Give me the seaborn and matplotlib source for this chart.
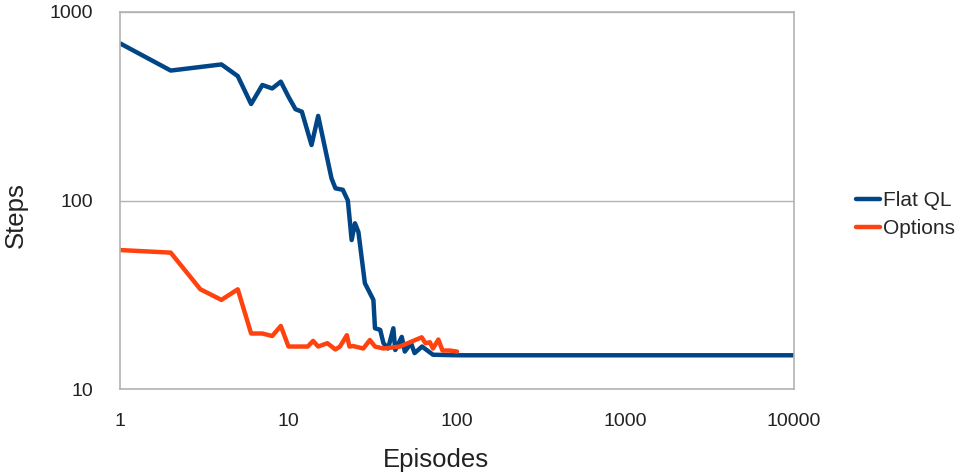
import matplotlib
matplotlib.use("Agg")
import matplotlib.pyplot as plt
import matplotlib.ticker as mticker
import pandas as pd
import seaborn as sns

flat_episodes = [1, 2, 4, 5, 6, 7, 8, 9, 10, 11, 12, 13.7, 15, 18, 19, 21, 22.5,
                 23.7, 24.8, 26, 28.4, 31.9, 32.6, 35, 36.6, 39, 41.9, 43, 47,
                 49, 53.4, 56, 62, 72, 100, 1000, 10000]
flat_steps = [682, 489, 527, 457, 325, 410, 393, 427, 355, 305, 296, 197, 281,
              131, 116, 114, 100, 61.7, 75.7, 68, 36.4, 29.7, 21, 20.6, 17.5,
              16.4, 21, 16.1, 18.9, 15.8, 17.5, 15.5, 16.8, 15.2, 15.1, 15.1, 15.1]

opt_episodes = [1, 2, 3, 4, 5, 6, 7, 8, 9, 10, 13, 14, 15, 17, 19, 20.2, 22.2,
                23, 24.2, 27.8, 30.4, 32.6, 36.6, 45.8, 61.7, 65, 69, 72, 77.5,
                82, 90.6, 100]
opt_steps = [54.6, 52.9, 33.8, 29.7, 33.8, 19.7, 19.7, 19.1, 21.6, 16.8, 16.8,
             18, 16.8, 17.5, 16.2, 16.8, 19.3, 16.8, 16.9, 16.4, 18.2, 16.8,
             16.4, 16.8, 18.8, 17.5, 17.7, 16.4, 18.3, 16.0, 16.0, 15.8]

series_names = ["Flat QL", "Options"]
colors = ["#004586", "#ff420e"]

df = pd.concat([
    pd.DataFrame({"Episodes": flat_episodes, "Steps": flat_steps, "series": series_names[0]}),
    pd.DataFrame({"Episodes": opt_episodes, "Steps": opt_steps, "series": series_names[1]}),
])

sns.set_style("white")
plt.rcParams["font.family"] = ["Liberation Sans", "DejaVu Sans"]

fig = plt.figure(figsize=(9.66, 4.74), dpi=100)
ax = fig.add_axes([0.1242, 0.1793, 0.6978, 0.7954])

sns.lineplot(data=df, x="Episodes", y="Steps", hue="series",
             palette=dict(zip(series_names, colors)), estimator=None,
             sort=False, linewidth=3.2, ax=ax)

ax.set_xscale("log")
ax.set_yscale("log")
ax.set_xlim(1, 10000)
ax.set_ylim(10, 1000)

ax.xaxis.set_major_locator(mticker.LogLocator(base=10, numticks=10))
ax.yaxis.set_major_locator(mticker.LogLocator(base=10, numticks=10))
ax.xaxis.set_minor_locator(mticker.NullLocator())
ax.yaxis.set_minor_locator(mticker.NullLocator())
ax.xaxis.set_major_formatter(mticker.FuncFormatter(lambda v, p: f"{v:g}"))
ax.yaxis.set_major_formatter(mticker.FuncFormatter(lambda v, p: f"{v:g}"))

grey = "#b3b3b3"
ax.grid(axis="y", color=grey, linewidth=1)
ax.grid(axis="x", visible=False)
for s in ax.spines.values():
    s.set_color(grey)
    s.set_linewidth(1.2)
ax.tick_params(axis="both", which="major", direction="out", length=9,
               width=1.2, color=grey, labelsize=14, labelcolor="#222222")
ax.tick_params(axis="y", pad=10.5)
ax.tick_params(axis="x", pad=8.5)

ax.set_xlabel("Episodes", fontsize=18.5, color="#222222")
ax.set_ylabel("Steps", fontsize=18.5, color="#222222")
ax.xaxis.set_label_coords(0.469, -0.156)
ax.yaxis.set_label_coords(-0.1365, 0.4615)

ax.legend(frameon=False, loc="center left", bbox_to_anchor=(0.886, 0.5475),
          bbox_transform=fig.transFigure, fontsize=15, handlelength=1.15,
          handletextpad=0.15, labelspacing=0.45, borderaxespad=0, borderpad=0)

fig.savefig("out.png", dpi=100)
